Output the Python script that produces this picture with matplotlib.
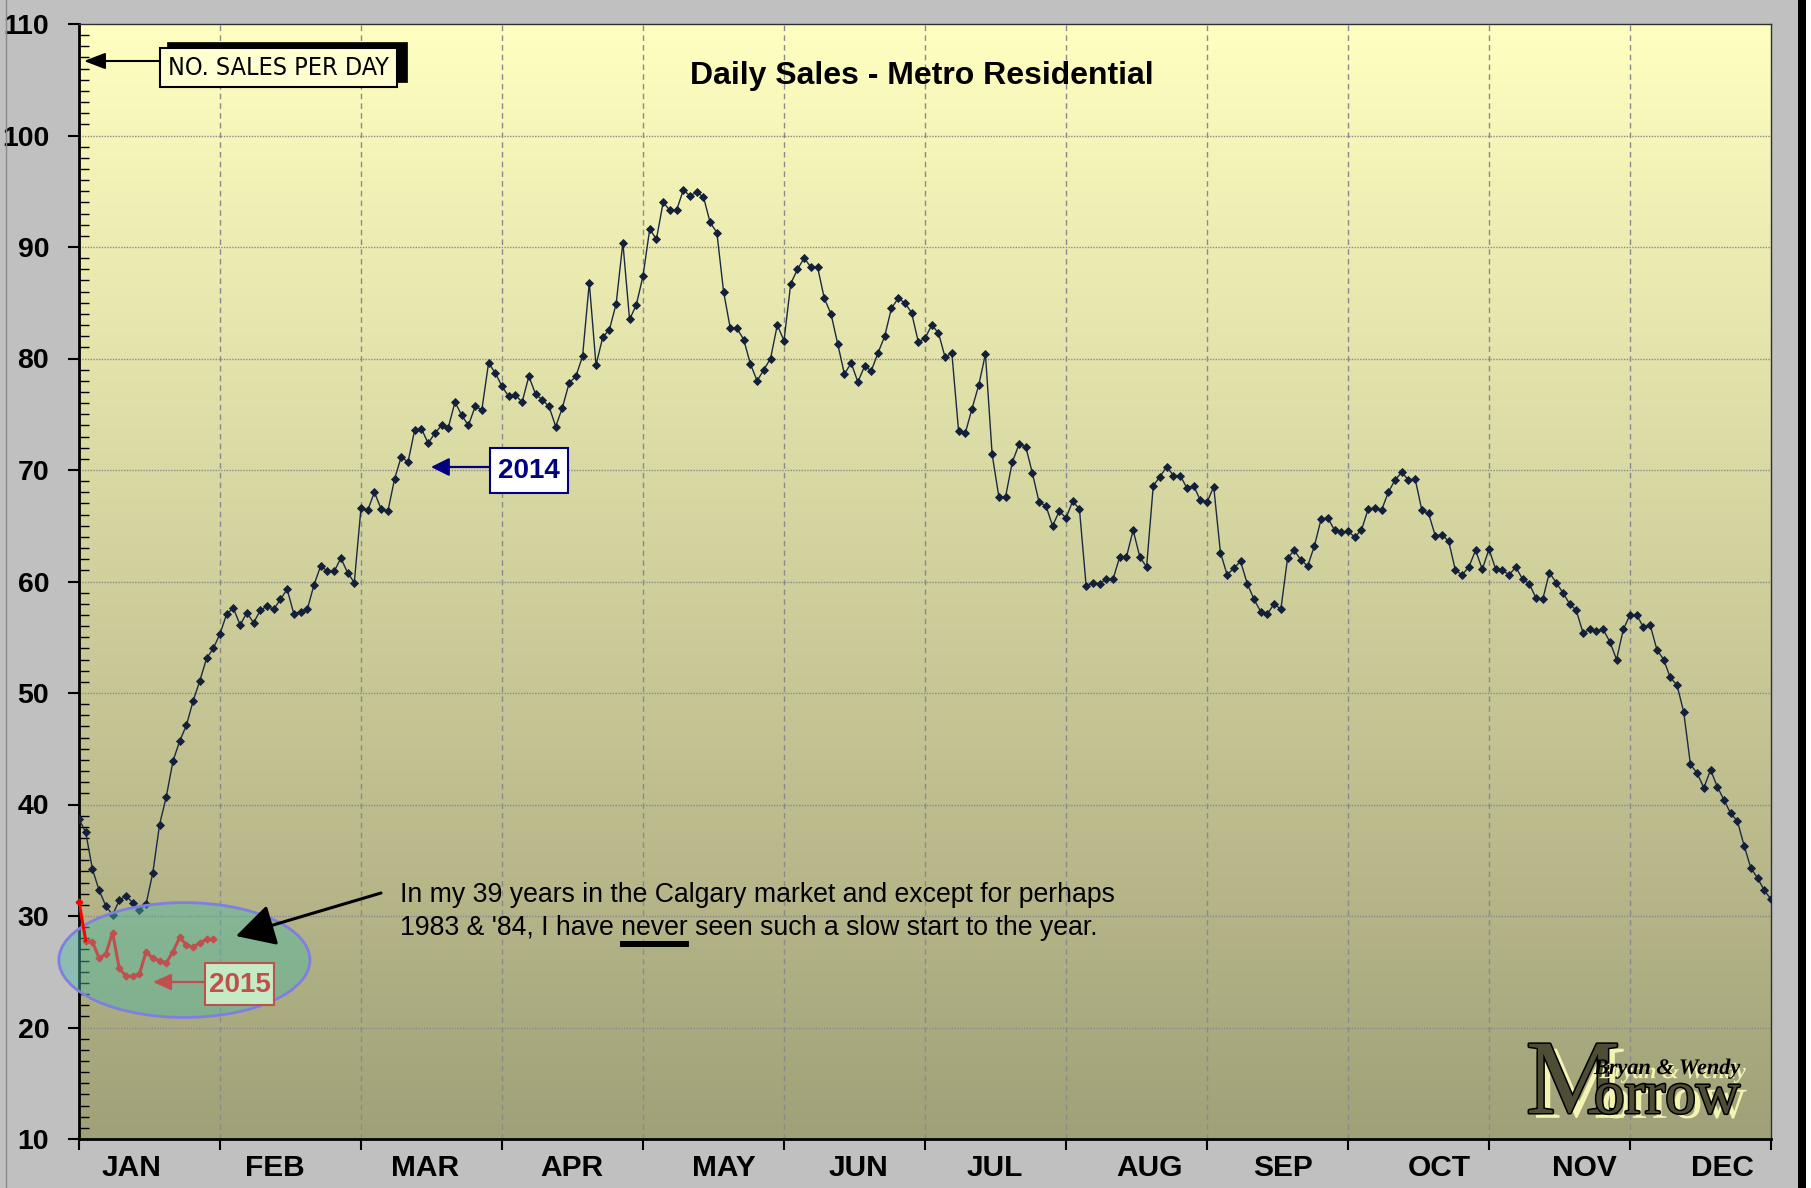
import numpy as np
import matplotlib
matplotlib.use("Agg")
import matplotlib.pyplot as plt
from matplotlib import font_manager
from matplotlib.patches import Ellipse, Rectangle, FancyArrowPatch
from matplotlib.lines import Line2D
from matplotlib.ticker import MultipleLocator, NullFormatter
import matplotlib.patheffects as pe

# ---------------- data ----------------
sales_2014 = [
    38.7, 37.5, 34.2, 32.3, 30.9, 30.1, 31.4, 31.8, 31.2, 30.5, 31.1, 33.9, 38.2, 40.7, 43.9,
    45.7, 47.1, 49.3, 51.1, 53.1, 54.0, 55.3, 57.1, 57.6, 56.1, 57.2, 56.3, 57.4, 57.8, 57.5,
    58.4, 59.3, 57.1, 57.3, 57.5, 59.7, 61.4, 60.9, 60.9, 62.1, 60.8, 59.9,
    66.6, 66.4, 68.0, 66.5, 66.3, 69.2, 71.2, 70.7, 73.6, 73.7, 72.4, 73.3, 74.0, 73.8, 76.1,
    74.9, 74.0, 75.7, 75.4, 79.6, 78.7, 77.5, 76.6, 76.7, 76.1, 78.4, 76.8, 76.3, 75.7, 73.9,
    75.6, 77.8,
    78.4, 80.2, 86.8, 79.4, 81.9, 82.6, 84.9, 90.4, 83.5, 84.8, 87.4, 91.6, 90.7, 94.0, 93.3,
    93.3, 95.1, 94.6, 94.9, 94.5, 92.2, 91.3, 86.0, 82.7, 82.7, 81.7, 79.5, 78.0, 79.0, 80.0,
    83.0, 81.6, 86.7, 88.0, 89.0, 88.2, 88.2, 85.4, 84.0, 81.3, 78.6, 79.6, 77.9, 79.3, 78.9,
    80.5, 82.0, 84.5, 85.4, 85.0, 84.1, 81.5, 81.8, 83.0, 82.3, 80.1, 80.5, 73.5, 73.3, 75.5,
    77.6, 80.4, 71.4, 67.6, 67.6, 70.7, 72.3, 72.1, 69.7, 67.1, 66.8, 65.0, 66.3, 65.7,
    67.2, 66.5, 59.6, 59.9, 59.8, 60.2, 60.2, 62.2, 62.2, 64.6, 62.2, 61.3, 68.6, 69.4, 70.3,
    69.5, 69.5, 68.4, 68.6, 67.3, 67.1, 68.5, 62.6, 60.6, 61.2, 61.8, 59.8, 58.4, 57.3, 57.1,
    58.0, 57.5, 62.1, 62.8, 61.9, 61.4, 63.2, 65.6, 65.7, 64.6, 64.4, 64.5, 64.0, 64.6, 66.5,
    66.6, 66.4, 68.0, 69.1, 69.8, 69.1, 69.2, 66.4, 66.1, 64.1, 64.2, 63.6, 61.0, 60.6, 61.3,
    62.8, 61.1, 62.9, 61.1, 61.0, 60.6, 61.3, 60.2, 59.8, 58.5, 58.4, 60.8, 59.9, 59.0, 58.0,
    57.4, 55.4, 55.7, 55.6, 55.7, 54.6, 53.0, 55.7, 57.0, 57.0, 55.9, 56.1, 53.9, 53.0, 51.4,
    50.7, 48.3, 43.6, 42.8, 41.5, 43.1, 41.6, 40.4, 39.2, 38.5, 36.3, 34.3, 33.4, 32.3, 31.5,
]
sales_2015 = [
    31.3, 27.8, 27.7, 26.2, 26.6, 28.5, 25.3, 24.6, 24.6, 24.8, 26.8, 26.2, 26.0, 25.8, 26.8,
    28.1, 27.4, 27.2, 27.6, 27.9, 27.9,
]
months = ["JAN", "FEB", "MAR", "APR", "MAY", "JUN", "JUL", "AUG", "SEP", "OCT", "NOV", "DEC"]
y_ticks = list(range(10, 111, 10))
title = "Daily Sales - Metro Residential"
note_line1 = "In my 39 years in the Calgary market and except for perhaps"
note_line2 = "1983 & '84, I have never seen such a slow start to the year."

# ---------------- fonts ----------------
names = {f.name for f in font_manager.fontManager.ttflist}
SANS = "Liberation Sans" if "Liberation Sans" in names else "DejaVu Sans"
SERIF = "Liberation Serif" if "Liberation Serif" in names else "DejaVu Serif"
if "Liberation Sans Narrow" in names:
    NARROW = dict(family="Liberation Sans Narrow")
else:
    NARROW = dict(family="DejaVu Sans", fontstretch="condensed")
plt.rcParams["font.family"] = [SANS, "DejaVu Sans"]

# ---------------- figure / layout ----------------
W, H = 1811, 1188
fig = plt.figure(figsize=(W / 100, H / 100), dpi=100, facecolor="#C0C0C0")
L, R, T, B = 79, 1771, 24, 1139
ax = fig.add_axes([L / W, 1 - B / H, (R - L) / W, (B - T) / H])
renderer = fig.canvas.get_renderer()

def fx(px):
    return px / W

def fy(py):
    return 1 - py / H

n_span = len(sales_2014) - 1
ax.set_xlim(0, n_span)
ax.set_ylim(10, 110)

# gradient background
g = np.linspace(0, 1, 256)[:, None, None]
top = np.array([255, 255, 193]) / 255.0
bot = np.array([161, 161, 121]) / 255.0
img = top * (1 - g) + bot * g
ax.imshow(img, extent=[0, n_span, 10, 110], aspect="auto", origin="upper",
          zorder=0, interpolation="bilinear")

month_w = n_span / 12.0
for k in range(1, 12):
    ax.axvline(k * month_w, color="#8A8A8A", lw=1.0, ls=(0, (4, 3)), zorder=1)
for v in y_ticks[1:-1]:
    ax.axhline(v, color="#8A8A8A", lw=1.0, ls=(0, (1, 1)), zorder=1)

# axes ticks
ax.set_xticks([k * month_w for k in range(13)])
ax.xaxis.set_major_formatter(NullFormatter())
label_px = [132, 275, 425, 572, 724, 858, 995, 1150, 1283, 1439, 1584, 1722]
label_pos = [(p - L) / (R - L) * n_span for p in label_px]
ax.set_xticks(label_pos, minor=True)
ax.set_xticklabels(months, minor=True, fontsize=21.5, fontweight="bold")
ax.tick_params(axis="x", which="major", direction="out", length=8, width=1.5)
ax.tick_params(axis="x", which="minor", length=0, pad=10.5)

ax.set_yticks(y_ticks)
ax.set_yticklabels([str(v) for v in y_ticks], fontsize=20.5, fontweight="bold")
ax.yaxis.set_minor_locator(MultipleLocator(1))
ax.tick_params(axis="y", which="major", direction="out", length=8, width=1.5, pad=13.5)
ax.tick_params(axis="y", which="minor", direction="in", length=7, width=1)

for s in ["left", "bottom"]:
    ax.spines[s].set_linewidth(2)
    ax.spines[s].set_color("black")
for s in ["top", "right"]:
    ax.spines[s].set_linewidth(1)
    ax.spines[s].set_color("#303030")

# ---------------- series ----------------
x14 = np.arange(len(sales_2014))
ax.plot(x14, sales_2014, color="#1B2A41", lw=1.0, marker="D", ms=3.9,
        mfc="#13203A", mec="#13203A", mew=0.6, zorder=3)

ell = Ellipse((15.7, 26.05), 37.4, 10.3, facecolor=(0.30, 0.72, 0.63, 0.45),
              edgecolor="#7F7FE0", lw=2, zorder=4, clip_on=False)
ax.add_patch(ell)

x15 = np.arange(len(sales_2015))
ax.plot(x15[1:], sales_2015[1:], color="#C0504D", lw=2.2, marker="D", ms=3.4,
        mfc="#C0504D", mec="#C0504D", zorder=5)
ax.plot(x15[:2], sales_2015[:2], color="#FF0000", lw=2.2, zorder=5)
ax.plot(x15[:1], sales_2015[:1], ls="none", marker="D", ms=3.4, color="#FF0000",
        zorder=6, clip_on=False)

# ---------------- annotations ----------------
def arrow(p0, p1, color, lw, hl, hw):
    a = FancyArrowPatch((fx(p0[0]), fy(p0[1])), (fx(p1[0]), fy(p1[1])),
                        transform=fig.transFigure,
                        arrowstyle=f"-|>,head_length={hl},head_width={hw}",
                        mutation_scale=10, lw=lw, color=color,
                        shrinkA=0, shrinkB=0, zorder=6)
    fig.add_artist(a)

def rect(x0, y0, x1, y1, fc, ec, lw, z=5):
    r = Rectangle((fx(x0), fy(y1)), (x1 - x0) / W, (y1 - y0) / H,
                  transform=fig.transFigure, facecolor=fc, edgecolor=ec, lw=lw, zorder=z)
    fig.add_artist(r)

def text_width(s, **kw):
    t = fig.text(0, 0, s, **kw)
    w = t.get_window_extent(renderer).width
    t.remove()
    return w

# Title
fig.text(fx(922), fy(76), title, ha="center", va="center", fontsize=23,
         fontweight="bold", color="black")

# NO. SALES PER DAY
rect(167, 42, 407, 82, "black", "black", 0.5)
rect(160, 48, 397, 87, "#FFFFD2", "black", 1.5, z=6)
fig.text(fx(278.5), fy(68), "NO. SALES PER DAY", ha="center", va="center",
         fontsize=18, color="black", zorder=7, **NARROW)
arrow((160, 61), (84, 61), "black", 1.5, 1.3, 0.5)

# 2014 label
rect(490, 448, 568, 493, "white", "#000080", 1.5, z=6)
fig.text(fx(529), fy(471), "2014", ha="center", va="center", fontsize=20,
         fontweight="bold", color="#000080", zorder=7)
arrow((490, 467), (431, 467), "#000080", 1.6, 1.1, 0.55)

# 2015 label
rect(205, 963, 274, 1005, "#C4EBC4", "#C0504D", 1.5, z=6)
fig.text(fx(239.5), fy(985), "2015", ha="center", va="center", fontsize=20,
         fontweight="bold", color="#C0504D", zorder=7)
arrow((205, 982), (153, 982), "#C0504D", 1.6, 1.1, 0.5)

# Comment text
NOTE_FS = 19.2
fig.text(fx(400), fy(902), note_line1, fontsize=NOTE_FS, va="baseline", color="black")
fig.text(fx(400), fy(935), note_line2, fontsize=NOTE_FS, va="baseline", color="black")
tmp = fig.text(fx(400), fy(935), "1983 & '84, I have never", fontsize=NOTE_FS, va="baseline")
bb_a = tmp.get_window_extent(renderer)
tmp.remove()
w_never = text_width("never", fontsize=NOTE_FS)
u1 = bb_a.x1 + 1
u0 = u1 - w_never - 2
fig.add_artist(Line2D([u0 / W, u1 / W], [fy(944), fy(944)], color="black", lw=4.3,
                      transform=fig.transFigure, solid_capstyle="butt"))
arrow((381, 893), (236, 936), "black", 2.2, 2.4, 1.3)

# Logo (shadow done with path effects)
shadow = "#F3F3B2"
logo_fx = [pe.SimplePatchShadow(offset=(5.0, -3.5), shadow_rgbFace=shadow, alpha=1.0),
           pe.Stroke(linewidth=2.2, foreground="black"), pe.Normal()]
fig.text(fx(1526), fy(1113), "M", fontsize=76, family=SERIF, va="baseline",
         color="#4E4E36", path_effects=logo_fx)
fig.text(fx(1594), fy(1113), "orrow", fontsize=44, family=SERIF, va="baseline",
         color="#4E4E36", path_effects=logo_fx)
bw_kw = dict(family=SERIF, fontweight="bold", style="italic")
bw_fs = 21 * 146 / text_width("Bryan & Wendy", fontsize=21, **bw_kw)
fig.text(fx(1594), fy(1074), "Bryan & Wendy", fontsize=bw_fs, va="baseline",
         color="black", path_effects=[pe.SimplePatchShadow(offset=(4, -3), shadow_rgbFace=shadow,
                                                           alpha=1.0), pe.Normal()],
         **bw_kw)

# frame edges of the picture
fig.add_artist(Rectangle((fx(1798), 0), 8 / W, 1, transform=fig.transFigure,
                         facecolor="black", edgecolor="none"))
fig.add_artist(Rectangle((fx(1806), 0), 5 / W, 1, transform=fig.transFigure,
                         facecolor="white", edgecolor="none"))
fig.add_artist(Line2D([fx(5.5)] * 2, [0, 1], color="#8A8A8A", lw=1,
                      transform=fig.transFigure))

fig.savefig("out.png", dpi=100, facecolor=fig.get_facecolor())
